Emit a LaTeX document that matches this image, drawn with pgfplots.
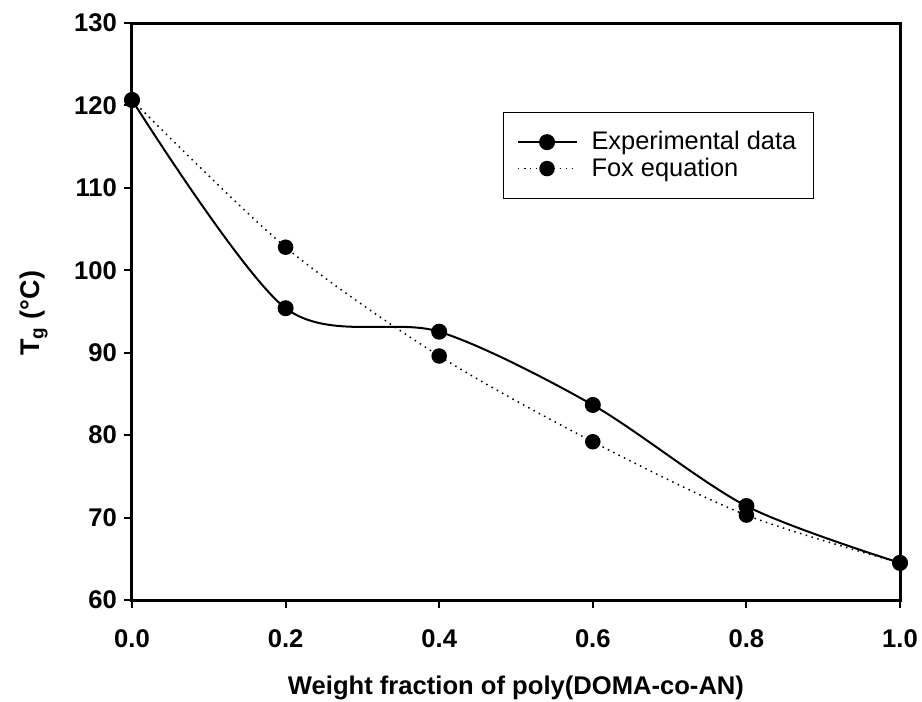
\documentclass[border=0pt]{standalone}
\usepackage{fontspec}
\setmainfont{Liberation Sans}
\usepackage{pgfplots}
\pgfplotsset{compat=1.18}

\begin{document}
\begin{tikzpicture}
\begin{axis}[
    scale only axis,
    width=384pt, height=288.5pt,
    xmin=0, xmax=1, ymin=60, ymax=130,
    xtick={0,0.2,0.4,0.6,0.8,1.0},
    ytick={60,70,...,130},
    xticklabel={\pgfmathprintnumber[fixed,fixed zerofill,precision=1,assume math mode=true]{\tick}},
    yticklabel={\pgfmathprintnumber[assume math mode=true]{\tick}},
    tick align=outside,
    xtick pos=bottom, ytick pos=left,
    major tick length=4pt,
    every tick/.style={black, line width=1pt},
    axis line style={line width=1.5pt},
    ticklabel style={font=\fontsize{12.8}{15}\selectfont\bfseries},
    xticklabel style={yshift=-7.5pt},
    xlabel={Weight fraction of poly(DOMA-co-AN)},
    ylabel={T\textsubscript{g} (°C)},
    xlabel style={at={(axis description cs:0.5,-0.152)},anchor=center,
        font=\fontsize{12.8}{15}\selectfont\bfseries},
    ylabel style={at={(axis description cs:-0.128,0.497)},anchor=center,
        font=\fontsize{13.5}{15}\selectfont\bfseries},
    legend style={at={(axis description cs:0.483,0.846)},anchor=north west,
        draw=black, line width=0.6pt, font=\fontsize{12.7}{15}\selectfont,
        row sep=-1.5pt, inner xsep=6.5pt, inner ysep=7.5pt,
        /tikz/every odd column/.append style={column sep=5pt}},
    legend cell align=left,
    legend image code/.code={\draw[mark repeat=2,mark phase=2,#1] plot coordinates {(0pt,0pt) (14.75pt,0pt) (29.5pt,0pt)};},
]
\addplot[black, line width=1pt, smooth, mark=*, mark size=3.5pt, mark options={solid}]
  coordinates {(0,120.66) (0.2,95.4) (0.4,92.55) (0.6,83.66) (0.8,71.4) (1.0,64.5)};
\addlegendentry{Experimental data}
\addplot[black, line width=0.75pt, smooth, dash pattern=on 0.75pt off 2.25pt, mark=*, mark size=3.5pt, mark options={solid}]
  coordinates {(0,120.66) (0.2,102.8) (0.4,89.6) (0.6,79.2) (0.8,70.3) (1.0,64.5)};
\addlegendentry{Fox equation}
\end{axis}
\pgfresetboundingbox
\path[use as bounding box] (-66pt,-51pt) rectangle (395pt,300pt);
\end{tikzpicture}
\end{document}
